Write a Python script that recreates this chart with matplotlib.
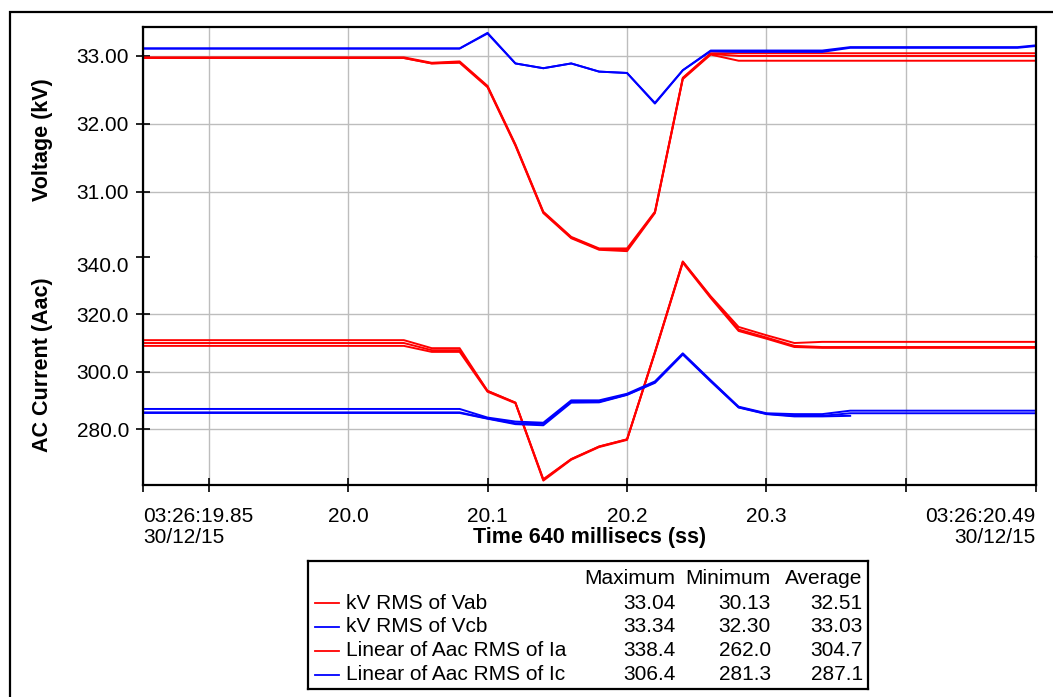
import numpy as np
import matplotlib.pyplot as plt
from matplotlib.patches import Rectangle
from matplotlib.ticker import FormatStrFormatter

plt.rcParams["font.family"] = ["Liberation Sans", "DejaVu Sans"]
plt.rcParams["font.size"] = 15

# 20 ms RMS samples, 03:26:19.84 .. 03:26:20.50
time_s = np.round(np.arange(19.84, 20.51, 0.02), 2)
t_start, t_end = 19.853, 20.493

# kV RMS of Vab (max / avg / min traces)
vab_max = [32.98] * 11 + [32.90, 32.92, 32.56, 31.70, 30.71, 30.34, 30.17, 30.17, 30.71, 32.68, 33.04] + [33.04] * 12
vab_avg = [32.97] * 11 + [32.89, 32.91, 32.55, 31.69, 30.70, 30.33, 30.16, 30.15, 30.70, 32.67, 33.03] + [33.00] * 12
vab_min = [32.97] * 11 + [32.89, 32.90, 32.54, 31.68, 30.69, 30.32, 30.15, 30.13, 30.69, 32.66, 33.02] + [32.93] * 12

# kV RMS of Vcb
vcb_max = [33.11] * 13 + [33.34, 32.89, 32.82, 32.89, 32.77, 32.75, 32.30, 32.79, 33.08, 33.08, 33.08, 33.08, 33.08] + [33.13] * 7 + [33.17]
vcb_min = [33.11] * 13 + [33.33, 32.89, 32.82, 32.89, 32.77, 32.75, 32.31, 32.79, 33.07, 33.06, 33.06, 33.06, 33.06] + [33.12] * 7 + [33.16]

# Linear of Aac RMS of Ia
ia_max = [311.0] * 11 + [308.2, 308.2, 293.3, 289.2, 262.5, 269.5, 273.9, 276.4, 306.8, 338.4, 326.3, 315.6, 312.7, 310.0] + [310.4] * 9
ia_avg = [310.0] * 11 + [307.5, 307.5, 293.3, 289.2, 262.3, 269.5, 273.9, 276.4, 306.8, 338.4, 326.0, 314.7, 311.9, 309.0] + [308.6] * 9
ia_min = [309.0] * 11 + [306.9, 306.9, 293.0, 289.0, 262.0, 269.3, 273.7, 276.2, 306.5, 338.0, 325.7, 314.2, 311.5, 308.6] + [308.3] * 9

# Linear of Aac RMS of Ic
ic_max = [287.0] * 13 + [284.0, 282.6, 282.2, 290.0, 290.0, 292.3, 296.6, 306.4, 297.0, 287.8, 285.5, 285.2, 285.2] + [286.4] * 8
ic_avg = [285.8] * 13 + [283.7, 282.0, 281.8, 289.5, 289.5, 292.0, 296.3, 306.2, 296.8, 287.6, 285.3, 284.6, 284.6] + [285.5] * 8
ic_min = [285.6] * 13 + [283.6, 281.7, 281.3, 289.2, 289.3, 291.9, 296.1, 306.0, 296.6, 287.5, 285.2, 284.4, 284.4, 284.6] + [np.nan] * 7

# summary table
series_names = ["kV RMS of Vab", "kV RMS of Vcb", "Linear of Aac RMS of Ia", "Linear of Aac RMS of Ic"]
series_colors = ["#ff0000", "#0000ff", "#ff0000", "#0000ff"]
stat_max = [33.04, 33.34, 338.4, 306.4]
stat_min = [30.13, 32.30, 262.0, 281.3]
stat_avg = [32.51, 33.03, 304.7, 287.1]
stat_fmt = ["%.2f", "%.2f", "%.1f", "%.1f"]

x_ticks = [t_start, 19.9, 20.0, 20.1, 20.2, 20.3, 20.4, t_end]
x_labels = ["03:26:19.85\n30/12/15", "", "20.0", "20.1", "20.2", "20.3", "", "03:26:20.49\n30/12/15"]

W, H = 1053, 697
fig = plt.figure(figsize=(W / 100, H / 100), dpi=100)

# outer frame (runs off the right/bottom edge)
fig.add_artist(Rectangle((10 / W, -0.1), 1.2, 1 - 12 / H + 0.1, transform=fig.transFigure,
                         fill=False, lw=1.6, ec="black", clip_on=False))

left, right = 143 / W, 1035.7 / W
ax_v = fig.add_axes([left, 1 - 257 / H, right - left, (257 - 27) / H])
ax_i = fig.add_axes([left, 1 - 484.5 / H, right - left, (484.5 - 257) / H], sharex=ax_v)

lw = 1.4
for y in (vab_max, vab_avg, vab_min):
    ax_v.plot(time_s, y, color="#ff0000", lw=lw)
for y in (vcb_max, vcb_min):
    ax_v.plot(time_s, y, color="#0000ff", lw=lw)
for y in (ia_max, ia_avg, ia_min):
    ax_i.plot(time_s, y, color="#ff0000", lw=lw)
for y in (ic_max, ic_avg, ic_min):
    ax_i.plot(time_s, y, color="#0000ff", lw=lw)

grid_kw = dict(color="#bdbdbd", lw=1.0, zorder=0)
for ax in (ax_v, ax_i):
    for s in ax.spines.values():
        s.set_linewidth(1.6)
    ax.grid(True, axis="x", **grid_kw)
    ax.tick_params(axis="y", direction="inout", length=10, width=1.2, pad=5)
    ax.set_axisbelow(True)
ax_v.spines["bottom"].set_visible(False)
ax_i.spines["top"].set_visible(False)

ax_v.set_xlim(t_start, t_end)
ax_v.set_ylim(30.044, 33.426)
ax_v.set_yticks([31, 32, 33])
ax_v.yaxis.set_major_formatter(FormatStrFormatter("%.2f"))
for v in [31, 32, 33]:
    ax_v.axhline(v, **grid_kw)
ax_v.tick_params(axis="x", bottom=False, labelbottom=False)

ax_i.set_ylim(260.65, 340)
ax_i.set_yticks([280, 300, 320, 340])
ax_i.yaxis.set_major_formatter(FormatStrFormatter("%.1f"))
for v in [280, 300, 320]:
    ax_i.axhline(v, **grid_kw)
ax_i.get_yticklabels()[-1].set_va("top")

ax_i.set_xticks(x_ticks, x_labels)
ax_i.tick_params(axis="x", direction="inout", length=10, width=1.2, pad=11)
xl = ax_i.get_xticklabels()
xl[0].set_ha("left")
xl[0].set_linespacing(1.12)
xl[-1].set_ha("right")
xl[-1].set_multialignment("right")
xl[-1].set_linespacing(1.12)

fig.text(42.5 / W, 1 - 139.5 / H, "Voltage (kV)", rotation=90, ha="center", va="center", weight="bold", size=15.5)
fig.text(42.5 / W, 1 - 365 / H, "AC Current (Aac)", rotation=90, ha="center", va="center", weight="bold", size=15.5)
fig.text(589.4 / W, 1 - 537.5 / H, "Time 640 millisecs (ss)", ha="center", va="center", weight="bold", size=15.5)

# statistics box below the chart
ax_t = fig.add_axes([307.7 / W, 1 - 689 / H, 560 / W, 128 / H])
ax_t.set_xlim(0, 560)
ax_t.set_ylim(128, 0)
ax_t.set_xticks([])
ax_t.set_yticks([])
for s in ax_t.spines.values():
    s.set_linewidth(1.6)

col_right = [368, 463, 555]
for x, head in zip(col_right, ["Maximum", "Minimum", "Average"]):
    ax_t.text(x, 18, head, ha="right", va="center")
row_y = [42.3, 65.5, 89.5, 114]
for y, name, c, mx, mn, av, f in zip(row_y, series_names, series_colors, stat_max, stat_min, stat_avg, stat_fmt):
    ax_t.plot([7.3, 31.6], [y, y], color=c, lw=1.3)
    ax_t.text(38, y, name, ha="left", va="center")
    for x, val in zip(col_right, (mx, mn, av)):
        ax_t.text(x, y, f % val, ha="right", va="center")

fig.savefig("out.png", dpi=100)
